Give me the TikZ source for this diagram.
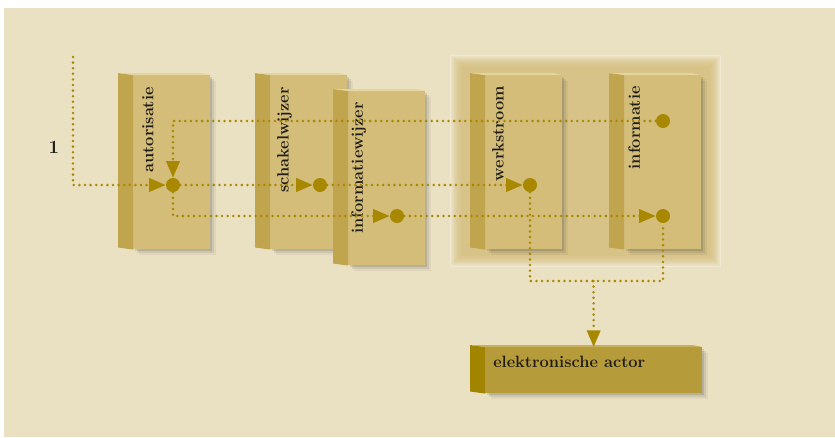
\documentclass[tikz,border=0pt]{standalone}
\usetikzlibrary{arrows.meta,positioning,calc,shadows}
\newlength\pxu
\setlength\pxu{0.75pt}
\definecolor{bgcol}{HTML}{EAE1C3}
\definecolor{frontcol}{HTML}{D3BD78}
\definecolor{sidecol}{HTML}{C0A54E}
\definecolor{topcol}{HTML}{E3D4A0}
\definecolor{hledge}{HTML}{EFE8D2}
\definecolor{hlcol}{HTML}{D6BF7E}
\definecolor{linecol}{HTML}{A88800}
\definecolor{actfront}{HTML}{B59B3A}
\definecolor{actside}{HTML}{A18400}
\definecolor{acttop}{HTML}{C8B05A}
\definecolor{inkcol}{HTML}{1E1C18}

\begin{document}
\begin{tikzpicture}[
  x=0.75pt, y=-0.75pt,
  softshadow/.style={
    drop shadow={shadow xshift=1.5pt, shadow yshift=-1.5pt,
                 opacity=0.14, fill=black!80},
    drop shadow={shadow xshift=3pt, shadow yshift=-3pt,
                 opacity=0.10, fill=black!80},
    drop shadow={shadow xshift=4.5pt, shadow yshift=-4.5pt,
                 opacity=0.06, fill=black!80}},
  slab/.style={
    anchor=north west, fill=frontcol, inner sep=0,
    minimum width=77\pxu, minimum height=174\pxu, softshadow},
  tag/.style={
    rotate=90, anchor=north east, inner sep=0,
    font=\bfseries\fontsize{12.3}{14}\selectfont, text=inkcol},
  dot/.style={circle, fill=linecol, inner sep=0, minimum size=10.5pt},
  dots/.style={draw=linecol, line width=2.1pt,
    dash pattern=on 0pt off 4.2pt, line cap=round},
  flow/.style={dots, -{Triangle[length=12.5pt, width=10pt]}},
]

  % ── Canvas ──────────────────────────────────────────────────────────────
  \useasboundingbox (0,0) rectangle (835,437);
  \fill[bgcol] (4,8) rectangle (835,437);

  % ── Highlighted group behind werkstroom / informatie ────────────────────
  \coordinate (grpNW) at (450,55);
  \coordinate (grpSE) at (721,267);
  \fill[hledge] (grpNW) rectangle (grpSE);
  \foreach \i in {1,...,12}
    \fill[hlcol, opacity=0.14]
      ([shift={(\i,\i)}]grpNW) rectangle ([shift={(-\i,-\i)}]grpSE);

  % ── Slabs (front faces) ─────────────────────────────────────────────────
  \node[slab] (aut) at (133,75) {};
  \node[slab] (sch) at (270,75) {};
  \node[slab] (inw) at (348,91) {};
  \node[slab] (wer) at (485,75) {};
  \node[slab] (inf) at (624,75) {};

  % side and top faces
  \foreach \b in {aut,sch,inw,wer,inf} {
    \fill[sidecol] (\b.north west) -- ++(-15,-2)
      -- ([shift={(-15,-2)}]\b.south west) -- (\b.south west) -- cycle;
    \fill[topcol] (\b.north west) -- ++(-15,-2)
      -- ([shift={(-10,-2)}]\b.north east) -- (\b.north east) -- cycle;
  }

  % ── Slab labels ─────────────────────────────────────────────────────────
  \node[tag] (tAut) at ([shift={(9,12)}]aut.north west) {autorisatie};
  \node[tag] (tSch) at ([shift={(7,12)}]sch.north west) {schakelwijzer};
  \node[tag] (tInw) at ([shift={(3,11)}]inw.north west) {informatiewijzer};
  \node[tag] (tWer) at ([shift={(7,11)}]wer.north west) {werkstroom};
  \node[tag] (tInf) at ([shift={(4,11)}]inf.north west) {informatie};

  % ── Electronic actor ────────────────────────────────────────────────────
  \node[anchor=north west, fill=actfront, inner sep=0,
        minimum width=217\pxu, minimum height=46\pxu, softshadow]
      (act) at (485,347) {};
  \fill[actside] (act.north west) -- ++(-15,-2)
    -- ([shift={(-15,-2)}]act.south west) -- (act.south west) -- cycle;
  \fill[acttop] (act.north west) -- ++(-15,-2)
    -- ([shift={(-10,-2)}]act.north east) -- (act.north east) -- cycle;
  \node[anchor=north west, inner sep=0, text=inkcol,
        font=\bfseries\fontsize{12.3}{14}\selectfont]
      (tAct) at ([shift={(8,9)}]act.north west) {elektronische actor};

  % ── Input label ─────────────────────────────────────────────────────────
  \node[text=inkcol, font=\bfseries\fontsize{14}{16}\selectfont]
      (one) at (54,147) {1};

  % ── Dots ────────────────────────────────────────────────────────────────
  \node[dot] (dAut)  at (173,185) {};
  \node[dot] (dSch)  at (320,185) {};
  \node[dot] (dInw)  at (397,216) {};
  \node[dot] (dWer)  at (530,185) {};
  \node[dot] (dInfT) at (663,121) {};
  \node[dot] (dInfB) at (663,216) {};

  \coordinate (start) at (73,57);
  \coordinate (join)  at (593.5,281);

  % ── Connectors ──────────────────────────────────────────────────────────
  \draw[flow] (start) |- (dAut);
  \draw[flow] (dAut)  -- (dSch);
  \draw[flow] (dSch)  -- (dWer);
  \draw[flow] (dInfT) -| (dAut);
  \draw[flow] (dAut)  |- (dInw);
  \draw[flow] (dInw)  -- (dInfB);
  \draw[dots] (dWer)  |- (join) -| (dInfB);
  \draw[flow] (join)  -- (act);

\end{tikzpicture}
\end{document}
